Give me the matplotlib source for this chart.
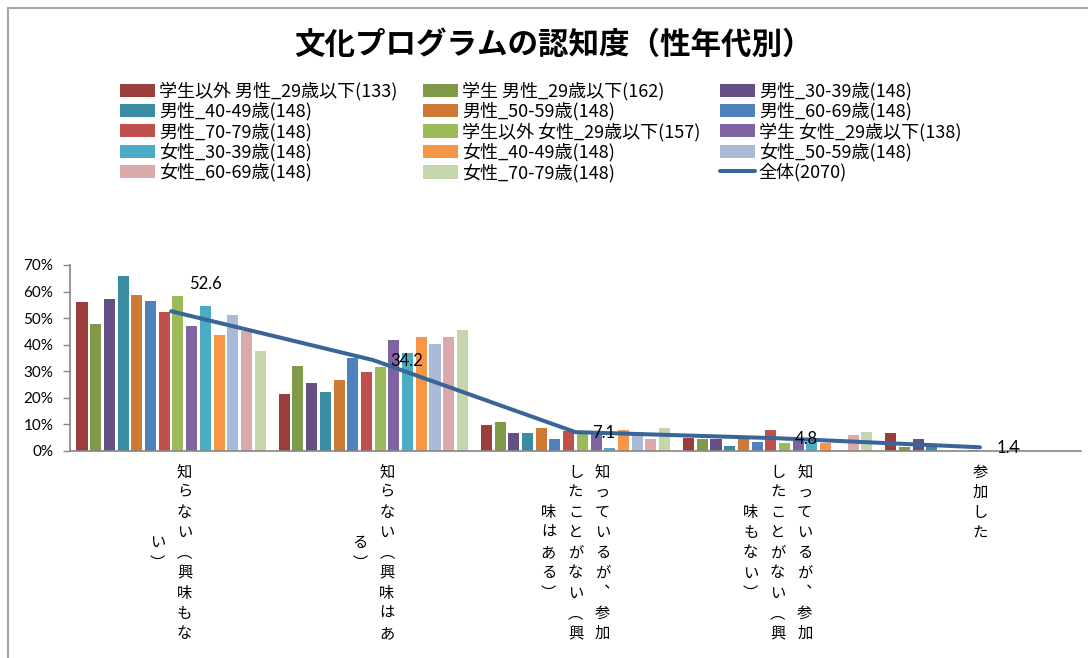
import numpy as np
import matplotlib
matplotlib.use("Agg")
import matplotlib.pyplot as plt
from matplotlib.patches import Rectangle
from matplotlib.font_manager import FontProperties

JP = ["Noto Sans CJK JP", "DejaVu Sans"]
plt.rcParams["font.family"] = JP

# categories on the x axis
categories = [
    "知らない（興味もない）",
    "知らない（興味はある）",
    "知っているが、参加したことがない（興味はある）",
    "知っているが、参加したことがない（興味もない）",
    "参加した",
]

series_names = [
    "学生以外 男性_29歳以下(133)", "学生 男性_29歳以下(162)", "男性_30-39歳(148)",
    "男性_40-49歳(148)", "男性_50-59歳(148)", "男性_60-69歳(148)",
    "男性_70-79歳(148)", "学生以外 女性_29歳以下(157)", "学生 女性_29歳以下(138)",
    "女性_30-39歳(148)", "女性_40-49歳(148)", "女性_50-59歳(148)",
    "女性_60-69歳(148)", "女性_70-79歳(148)",
]
series_colors = [
    "#9B3D3B", "#7F9A48", "#664F85", "#3A8CA3", "#CD7A35", "#4F81BD", "#C0504D",
    "#9BBB59", "#8064A2", "#4BACC6", "#F79646", "#AABAD7", "#D9AAA9", "#C6D6AC",
]

# percentages per series, one array per category
unaware_no_interest = [56.1, 47.9, 57.1, 66.0, 58.6, 56.5, 52.4, 58.3, 46.9, 54.5, 43.7, 51.1, 45.2, 37.6]
unaware_interest = [21.5, 31.9, 25.5, 22.1, 26.7, 34.9, 29.6, 31.5, 41.8, 37.0, 43.0, 40.4, 43.0, 45.7]
aware_interest = [9.7, 10.9, 6.6, 6.6, 8.5, 4.5, 7.5, 6.6, 6.9, 1.1, 7.9, 7.0, 4.5, 8.5]
aware_no_interest = [5.0, 4.6, 4.6, 1.9, 4.4, 3.3, 7.9, 3.0, 3.8, 3.5, 3.1, 0.5, 5.9, 7.2]
participated = [6.7, 1.5, 4.5, 1.5, 0.0, 0.0, 0.5, 0.0, 0.0, 1.0, 0.0, 0.0, 0.0, 0.0]

total_name = "全体(2070)"
total_values = [52.6, 34.2, 7.1, 4.8, 1.4]

values = np.array([unaware_no_interest, unaware_interest, aware_interest,
                   aware_no_interest, participated]).T

W, H = 1088, 658
fig = plt.figure(figsize=(W / 100, H / 100), dpi=100)
ax = fig.add_axes([70 / W, 1 - 451 / H, 1011 / W, 186 / H])

x = np.arange(len(categories))
pitch = 0.0678
bars = []
for i, (name, col) in enumerate(zip(series_names, series_colors)):
    b = ax.bar(x + (i - 6.5) * pitch, values[i], width=0.0545, color=col,
               label=name, zorder=2)
    bars.append(b)

line, = ax.plot(x, total_values, color="#3A6598", lw=2.9, zorder=4,
                solid_capstyle="round", label=total_name)

for i, v in enumerate(total_values):
    dx, dy = (18, 27) if i == 0 else (17, -1)
    ax.annotate(f"{v:.1f}", (x[i], v), xytext=(dx * 0.72, dy * 0.72),
                textcoords="offset points", ha="left", va="center",
                fontsize=12, family=["Lato", "DejaVu Sans"], zorder=5)

ax.set_xlim(-0.5, len(categories) - 0.5)
ax.set_ylim(0, 70)
ax.set_yticks(range(0, 71, 10))
ax.set_yticklabels([f"{t}%" for t in range(0, 71, 10)],
                   family=["Lato", "DejaVu Sans"], fontsize=11)
ax.set_xticks([])
ax.tick_params(axis="y", length=5, width=1, color="#868686", pad=7)
for s in ("top", "right"):
    ax.spines[s].set_visible(False)
for s in ("left", "bottom"):
    ax.spines[s].set_color("#868686")
    ax.spines[s].set_linewidth(1.2)

# category labels written top-to-bottom, columns running right-to-left
vert = {"（": "︵", "）": "︶", "、": "︑"}
per_col = 9
row_px, col_px = 20.2, 27
for i, label in enumerate(categories):
    chars = [vert.get(c, c) for c in label]
    cols = [chars[k:k + per_col] for k in range(0, len(chars), per_col)]
    longest = max(len(c) for c in cols)
    for k, col in enumerate(cols):
        xoff = ((len(cols) - 1) / 2 - k) * col_px
        start = (longest - len(col)) / 2
        for r, ch in enumerate(col):
            yoff = -(21 + (start + r) * row_px)
            ax.annotate(ch, (x[i], 0), xycoords=("data", "axes fraction"),
                        xytext=(xoff * 0.72, yoff * 0.72),
                        textcoords="offset points", ha="center", va="center",
                        fontsize=11, annotation_clip=False)

fig.text(553 / W, 1 - 45 / H, "文化プログラムの認知度（性年代別）",
         ha="center", va="center", fontsize=22, fontweight="bold")

# legend laid out as three columns, filled row by row
handles = [b for b in bars] + [line]
labels = series_names + [total_name]
prop = FontProperties(family=JP, size=13)
for c, xpx in enumerate([120, 423, 720]):
    idx = list(range(c, len(handles), 3))
    fig.legend([handles[j] for j in idx], [labels[j] for j in idx],
               loc="upper left", bbox_to_anchor=(xpx / W, 1 - 82 / H),
               frameon=False, borderpad=0, borderaxespad=0,
               handlelength=1.95, handleheight=0.75, handletextpad=0.2,
               labelspacing=0.09, prop=prop)

fig.add_artist(Rectangle((8 / W, -0.1), 1.2, (1 - 8 / H) + 0.1,
                         transform=fig.transFigure, fill=False,
                         edgecolor="#A6A6A6", lw=1.5))

fig.savefig("out.png", dpi=100)
